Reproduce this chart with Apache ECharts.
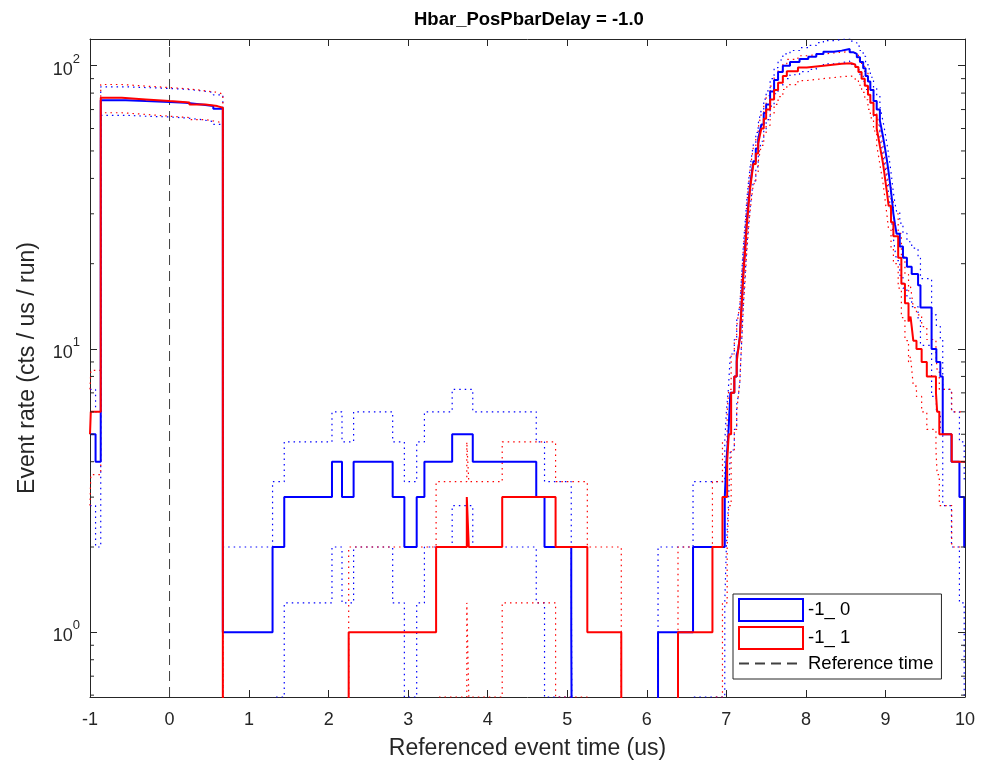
<!DOCTYPE html>
<html>
<head>
<meta charset="utf-8">
<script src="https://cdn.jsdelivr.net/npm/echarts@6/dist/echarts.min.js"></script>
<style>
  html, body { margin: 0; padding: 0; background: #fff; }
  #chart { width: 981px; height: 771px; }
</style>
</head>
<body>
<div id="chart"></div>
<script>
// step start times (us) and rates (cts / us / run); 0 = no counts
const blueTime = [-1, -0.93, -0.865, -0.55, -0.3, 0, 0.2, 0.4, 0.55, 0.67,
  1.295, 1.442, 2.042, 2.168, 2.314, 2.805, 2.952, 3.107, 3.204, 3.553,
  3.812, 4.61, 4.714, 5.05, 5.07, 6.141, 6.581, 6.98, 7.0, 7.025,
  7.05, 7.10, 7.13, 7.15, 7.17, 7.18, 7.19, 7.20, 7.21, 7.22,
  7.23, 7.24, 7.25, 7.26, 7.27, 7.28, 7.30, 7.32, 7.34, 7.37,
  7.40, 7.42, 7.44, 7.47, 7.50, 7.55, 7.60, 7.65, 7.71, 7.80,
  7.92, 8.03, 8.13, 8.22, 8.35, 8.45, 8.55, 8.60, 8.64, 8.68,
  8.72, 8.75, 8.78, 8.81, 8.85, 8.89, 8.93, 8.95, 8.97, 8.99,
  9.01, 9.025, 9.04, 9.055, 9.07, 9.085, 9.10, 9.12, 9.14, 9.18,
  9.22, 9.27, 9.33, 9.41, 9.44, 9.58, 9.64, 9.69, 9.72, 9.83,
  9.93, 9.99];
const blueRate = [5, 4, 75.5, 75, 74.5, 74, 73, 72, 70.5, 1,
  2, 3, 4, 3, 4, 3, 2, 3, 4, 5,
  4, 3, 2, 1, 0, 1, 2, 3, 4, 5,
  7, 8, 9.5, 10, 11, 12.5, 14, 16, 18, 20,
  22, 24, 26.5, 29, 31, 33.5, 38, 42, 46, 51,
  55, 58.5, 62, 68, 73, 81, 89, 95, 100, 103,
  105.5, 107.5, 110, 112, 113, 114.5, 111.5, 110, 107, 103,
  98, 92, 88, 82, 75, 70, 64, 60, 56, 52,
  48, 45, 42, 39, 36, 33, 30, 27.5, 25.5, 23,
  21, 19.5, 18.4, 16.8, 14, 10, 9, 8, 5, 4,
  3, 2];
const blueHigh = [7.2, 6, 84.2, 83.7, 83.1, 82.6, 81.5, 80.5, 78.9, 2,
  3.4, 4.7, 6, 4.7, 6, 4.7, 3.4, 4.7, 6, 7.2,
  6, 4.7, 3.4, 2, 0, 2, 3.4, 4.7, 6, 7.2,
  9.6, 10.8, 12.6, 13.2, 14.3, 16, 17.7, 20, 22.2, 24.5,
  26.7, 28.9, 31.6, 34.4, 36.6, 39.3, 44.2, 48.5, 52.8, 58.1,
  62.4, 66.1, 69.9, 76.2, 81.5, 90, 98.4, 104.7, 110, 113.1,
  115.8, 117.9, 120.5, 122.6, 123.6, 125.2, 122, 120.5, 117.3, 113.1,
  107.9, 101.6, 97.4, 91, 83.7, 78.4, 72, 67.7, 63.5, 59.2,
  54.9, 51.7, 48.5, 45.2, 42, 38.7, 35.5, 32.7, 30.5, 27.8,
  25.6, 23.9, 22.7, 20.9, 17.7, 13.2, 12, 10.8, 7.2, 6,
  4.7, 3.4];
const blueLow = [2.8, 2, 66.8, 66.3, 65.9, 65.4, 64.5, 63.5, 62.1, 0,
  0.59, 1.27, 2, 1.27, 2, 1.27, 0.59, 1.27, 2, 2.8,
  2, 1.27, 0.59, 0, 0, 0, 0.59, 1.27, 2, 2.8,
  4.4, 5.2, 6.4, 6.8, 7.7, 9, 10.3, 12, 13.8, 15.5,
  17.3, 19.1, 21.4, 23.6, 25.4, 27.7, 31.8, 35.5, 39.2, 43.9,
  47.6, 50.9, 54.1, 59.8, 64.5, 72, 79.6, 85.3, 90, 92.9,
  95.2, 97.1, 99.5, 101.4, 102.4, 103.8, 101, 99.5, 96.7, 92.9,
  88.1, 82.4, 78.6, 73, 66.3, 61.6, 56, 52.3, 48.5, 44.8,
  41.1, 38.3, 35.5, 32.8, 30, 27.3, 24.5, 22.3, 20.5, 18.2,
  16.4, 15.1, 14.1, 12.7, 10.3, 6.8, 6, 5.2, 2.8, 2,
  1.27, 0.59];

const redTime = [-1, -0.99, -0.865, -0.6, -0.3, 0, 0.25, 0.45, 0.6, 0.67,
  2.252, 3.351, 3.737, 3.762, 4.182, 4.853, 5.252, 5.679, 6.392, 6.825,
  6.951, 7.01, 7.03, 7.06, 7.10, 7.13, 7.15, 7.17, 7.18, 7.19,
  7.20, 7.21, 7.22, 7.23, 7.24, 7.25, 7.26, 7.27, 7.28, 7.30,
  7.32, 7.34, 7.37, 7.40, 7.42, 7.44, 7.47, 7.50, 7.55, 7.60,
  7.65, 7.71, 7.76, 7.90, 8.01, 8.22, 8.45, 8.57, 8.62, 8.66,
  8.70, 8.74, 8.78, 8.81, 8.85, 8.89, 8.91, 8.93, 8.95, 8.97,
  8.985, 9.00, 9.02, 9.04, 9.07, 9.10, 9.16, 9.20, 9.245, 9.29,
  9.315, 9.33, 9.35, 9.39, 9.455, 9.52, 9.635, 9.65, 9.677, 9.833];
const redRate = [5, 6, 77, 76, 75, 74.2, 73, 72, 71, 0,
  1, 2, 3, 2, 3, 2, 1, 0, 1, 2,
  3, 4, 5, 7, 8, 9, 10, 11, 12.5, 14,
  15.5, 17.5, 19.5, 21, 23, 25.5, 28, 30, 32.5, 37,
  41, 45, 49, 53, 56.5, 60, 65, 70, 76, 82,
  87, 92, 95.5, 98.5, 100, 101.5, 102, 101, 99, 95,
  90, 85, 79, 74, 67, 60, 56, 52, 48.5, 45,
  42, 39, 35.5, 32, 28, 25, 21, 17, 14.5, 12.5,
  13, 12, 10.7, 10, 9, 8, 7, 6, 5, 4];
const redHigh = [7.2, 8.4, 85.8, 84.7, 83.7, 82.8, 81.5, 80.5, 79.4, 0,
  2, 3.4, 4.7, 3.4, 4.7, 3.4, 2, 0, 2, 3.4,
  4.7, 6, 7.2, 9.6, 10.8, 12, 13.2, 14.3, 16, 17.7,
  19.4, 21.7, 23.9, 25.6, 27.8, 30.5, 33.3, 35.5, 38.2, 43.1,
  47.4, 51.7, 56, 60.3, 64, 67.7, 73, 78.4, 84.7, 91,
  96.3, 101.6, 105.3, 108.4, 110, 111.6, 112.1, 111, 109, 104.7,
  99.5, 94.2, 87.9, 82.6, 75.2, 67.7, 63.5, 59.2, 55.5, 51.7,
  48.5, 45.2, 41.5, 37.7, 33.3, 30, 25.6, 21.1, 18.3, 16,
  16.6, 15.5, 14, 13.2, 12, 10.8, 9.6, 8.4, 7.2, 6];
const redLow = [2.8, 3.6, 68.2, 67.3, 66.3, 65.6, 64.5, 63.5, 62.6, 0,
  0, 0.59, 1.27, 0.59, 1.27, 0.59, 0, 0, 0, 0.59,
  1.27, 2, 2.8, 4.4, 5.2, 6, 6.8, 7.7, 9, 10.3,
  11.6, 13.3, 15.1, 16.4, 18.2, 20.5, 22.7, 24.5, 26.8, 30.9,
  34.6, 38.3, 42, 45.7, 49, 52.3, 57, 61.6, 67.3, 73,
  77.7, 82.4, 85.7, 88.6, 90, 91.4, 91.9, 91, 89, 85.3,
  80.5, 75.8, 70.1, 65.4, 58.8, 52.3, 48.5, 44.8, 41.5, 38.3,
  35.5, 32.8, 29.5, 26.3, 22.7, 20, 16.4, 12.9, 10.7, 9,
  9.4, 8.5, 7.4, 6.8, 6, 5.2, 4.4, 3.6, 2.8, 2];

const seriesNames = ['-1_ 0', '-1_ 1', 'Reference time'];
const REF_TIME = 0;
const X_MIN = -1, X_MAX = 10;
const Y_MIN = 0.591, Y_MAX = 124.2;
const minorTicks = [0.6, 0.7, 0.8, 0.9, 2, 3, 4, 5, 6, 7, 8, 9, 20, 30, 40, 50, 60, 70, 80, 90];

const BLUE = '#0000ff';
const RED = '#ff0000';
const AXIS = '#262626';
const FONT = 'Liberation Sans';
const FLOOR = 0.05; // zero counts drop below the log axis

function steps(times, values) {
  const pts = times.map((t, i) => [t, values[i] > 0 ? values[i] : FLOOR]);
  pts.push([X_MAX, pts[pts.length - 1][1]]);
  return pts;
}

function stairs(name, color, data, dotted) {
  return {
    name: name,
    type: 'line',
    step: 'end',
    symbol: 'none',
    clip: true,
    silent: true,
    animation: false,
    data: data,
    z: dotted ? 2 : 3,
    lineStyle: dotted
      ? { color: color, width: 1.2, type: [1.5, 4] }
      : { color: color, width: 2 },
    itemStyle: { color: color }
  };
}

const chart = echarts.init(document.getElementById('chart'));

const option = {
  backgroundColor: '#fff',
  animation: false,
  title: {
    text: 'Hbar_PosPbarDelay = -1.0',
    left: 409,
    top: 5,
    textStyle: { fontFamily: FONT, fontSize: 18.5, fontWeight: 'bold', color: '#000' }
  },
  grid: { left: 90, right: 16, top: 39, bottom: 74 },
  legend: {
    data: [
      { name: seriesNames[0], icon: 'rect', itemStyle: { color: 'rgba(0,0,0,0)', borderColor: BLUE, borderWidth: 2 } },
      { name: seriesNames[1], icon: 'rect', itemStyle: { color: 'rgba(0,0,0,0)', borderColor: RED, borderWidth: 2 } },
      { name: seriesNames[2], itemStyle: { color: 'rgba(0,0,0,0)', borderColor: 'rgba(0,0,0,0)' } }
    ],
    orient: 'vertical',
    left: 733,
    top: 594,
    itemWidth: 64,
    itemHeight: 22,
    itemGap: 4,
    padding: [4, 8, 6, 5],
    borderColor: AXIS,
    borderWidth: 1,
    backgroundColor: '#fff',
    selectedMode: false,
    textStyle: { fontFamily: FONT, fontSize: 18.5, color: '#000' }
  },
  xAxis: [{
    type: 'value', min: X_MIN, max: X_MAX, interval: 1, position: 'bottom',
    name: 'Referenced event time (us)', nameLocation: 'middle', nameGap: 40,
    nameTextStyle: { fontFamily: FONT, fontSize: 23, color: AXIS },
    axisLine: { show: true, onZero: false, lineStyle: { color: AXIS, width: 1 } },
    axisTick: { show: true, inside: true, length: 7, lineStyle: { color: AXIS } },
    axisLabel: { margin: 14, fontFamily: FONT, fontSize: 18, color: AXIS },
    splitLine: { show: false }
  }, {
    type: 'value', min: X_MIN, max: X_MAX, interval: 1, position: 'top',
    axisLine: { show: true, onZero: false, lineStyle: { color: AXIS, width: 1 } },
    axisTick: { show: true, inside: true, length: 7, lineStyle: { color: AXIS } },
    axisLabel: { show: false },
    splitLine: { show: false }
  }],
  yAxis: [{
    type: 'log', logBase: 10, min: Y_MIN, max: Y_MAX, position: 'left',
    name: 'Event rate (cts / us / run)', nameLocation: 'middle', nameGap: 51,
    nameTextStyle: { fontFamily: FONT, fontSize: 23, color: AXIS },
    axisLine: { show: true, onZero: false, lineStyle: { color: AXIS, width: 1 } },
    axisTick: { show: true, inside: true, length: 7, lineStyle: { color: AXIS } },
    axisLabel: {
      margin: 10,
      formatter: function (v) {
        const e = Math.log10(v);
        if (Math.abs(e - Math.round(e)) > 1e-6) return '';
        return '{b|10}{s|' + Math.round(e) + '}';
      },
      rich: {
        b: { fontFamily: FONT, fontSize: 18, color: AXIS, padding: [8, 0, 0, 0], verticalAlign: 'bottom' },
        s: { fontFamily: FONT, fontSize: 13, color: AXIS, verticalAlign: 'top' }
      }
    },
    splitLine: { show: false }
  }, {
    type: 'log', logBase: 10, min: Y_MIN, max: Y_MAX, position: 'right',
    axisLine: { show: true, onZero: false, lineStyle: { color: AXIS, width: 1 } },
    axisTick: { show: true, inside: true, length: 7, lineStyle: { color: AXIS } },
    axisLabel: { show: false },
    splitLine: { show: false }
  }],
  series: [
    stairs('blueHigh', BLUE, steps(blueTime, blueHigh), true),
    stairs('blueLow', BLUE, steps(blueTime, blueLow), true),
    stairs('redHigh', RED, steps(redTime, redHigh), true),
    stairs('redLow', RED, steps(redTime, redLow), true),
    stairs(seriesNames[0], BLUE, steps(blueTime, blueRate), false),
    stairs(seriesNames[1], RED, steps(redTime, redRate), false),
    {
      name: seriesNames[2],
      type: 'line',
      symbol: 'none',
      silent: true,
      data: [[REF_TIME, Y_MIN], [REF_TIME, Y_MAX]],
      lineStyle: { color: '#404040', width: 1, type: [10, 6] },
      itemStyle: { color: '#404040' },
      z: 1
    },
    {
      type: 'custom',
      silent: true,
      data: minorTicks.map(v => [X_MIN, v]),
      renderItem: function (params, api) {
        const v = api.value(1);
        const l = api.coord([X_MIN, v]);
        const r = api.coord([X_MAX, v]);
        return {
          type: 'group',
          children: [
            { type: 'line', shape: { x1: l[0], y1: l[1], x2: l[0] + 4, y2: l[1] }, style: { stroke: AXIS, lineWidth: 1 } },
            { type: 'line', shape: { x1: r[0], y1: r[1], x2: r[0] - 4, y2: r[1] }, style: { stroke: AXIS, lineWidth: 1 } }
          ]
        };
      },
      z: 5
    }
  ]
};

chart.setOption(option);
</script>
</body>
</html>
